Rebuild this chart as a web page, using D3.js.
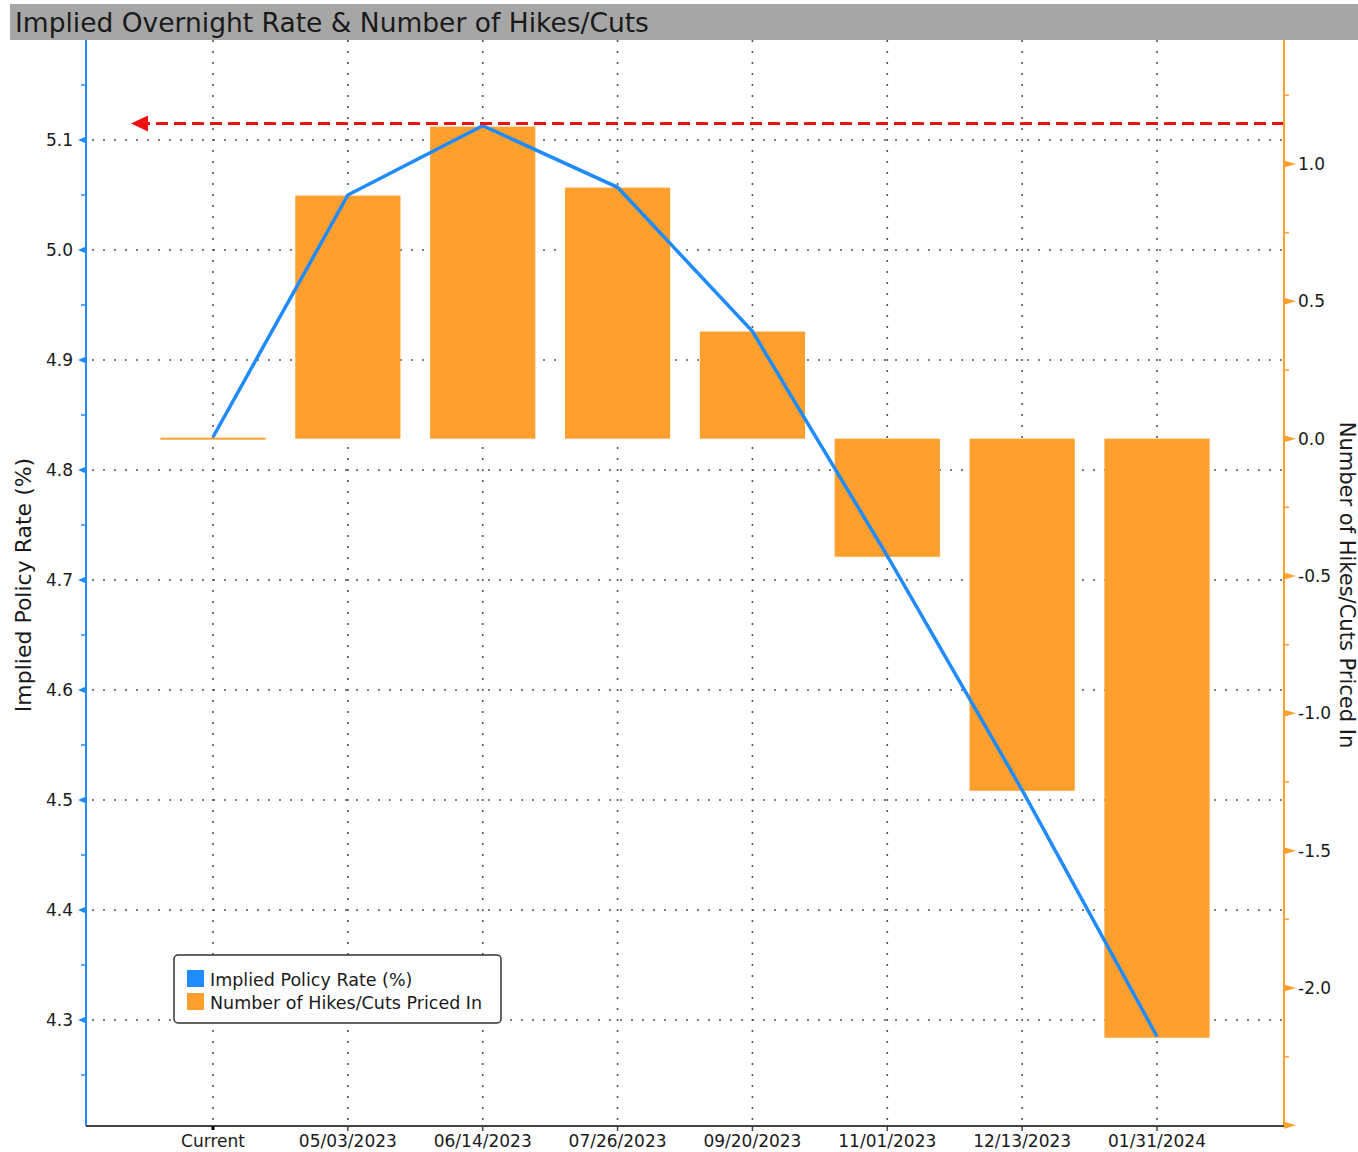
<html><head>
<script src="https://d3js.org/d3.v7.min.js"></script>
<style>
  body { margin: 0; background: #fff; }
  text { font-family: "DejaVu Sans", sans-serif; fill: #1a1a1a; }
</style>
</head>
<body>
<svg id="chart" width="1358" height="1152"></svg>
<script>
// values
const categories = ["Current", "05/03/2023", "06/14/2023", "07/26/2023", "09/20/2023", "11/01/2023", "12/13/2023", "01/31/2024"];
const impliedRate = [4.83, 5.05, 5.113, 5.057, 4.926, 4.722, 4.509, 4.285];   // left axis, %
const hikesCuts = [0, 0.885, 1.136, 0.914, 0.39, -0.43, -1.282, -2.181];      // right axis
const leftTicks = [4.3, 4.4, 4.5, 4.6, 4.7, 4.8, 4.9, 5.0, 5.1];
const leftMinor = [4.25, 4.35, 4.45, 4.55, 4.65, 4.75, 4.85, 4.95, 5.05, 5.15];
const rightTicks = [-2.0, -1.5, -1.0, -0.5, 0.0, 0.5, 1.0];
const rightMinor = [-2.25, -1.75, -1.25, -0.75, -0.25, 0.25, 0.75, 1.25];
const markerLevel = 5.115; // red dashed reference line (peak rate)

const svg = d3.select("#chart");
const pLeft = 86, pRight = 1284, pTop = 40, pBottom = 1126;
const blue = "#1f8bff", orange = "#ff9f2e";

// scales
const x = d3.scalePoint().domain(categories).range([213, 1157]);
const barW = x.step() * 0.78;

const yL = d3.scaleLinear().domain([4.3, 5.1]).range([1020, 140]);
yL.domain([yL.invert(pBottom), yL.invert(pTop)]).range([pBottom, pTop]);
const yR = d3.scaleLinear().domain([-2.0, 1.0]).range([988, 164]);
yR.domain([yR.invert(pBottom), yR.invert(pTop)]).range([pBottom, pTop]);

// title bar
svg.append("rect").attr("x", 10).attr("y", 4).attr("width", 1348).attr("height", 36).attr("fill", "#a6a6a6");
svg.append("text").attr("x", 15).attr("y", 32).attr("font-size", 26.5)
   .text("Implied Overnight Rate & Number of Hikes/Cuts");

// grid
const grid = svg.append("g").attr("stroke", "#555").attr("stroke-width", 1.6).attr("stroke-dasharray", "2,9");
grid.selectAll("line.h").data(leftTicks).join("line")
    .attr("x1", pLeft + 6).attr("x2", pRight).attr("y1", d => yL(d)).attr("y2", d => yL(d));
grid.selectAll("line.v").data(categories).join("line")
    .attr("x1", d => x(d)).attr("x2", d => x(d)).attr("y1", pTop).attr("y2", pBottom);

// bars
svg.append("g").selectAll("rect").data(categories).join("rect")
   .attr("x", d => x(d) - barW / 2)
   .attr("width", barW)
   .attr("y", (d, i) => Math.min(yR(hikesCuts[i]), yR(0)) - (hikesCuts[i] === 0 ? 1 : 0))
   .attr("height", (d, i) => Math.max(2, Math.abs(yR(hikesCuts[i]) - yR(0))))
   .attr("fill", orange);

// line
svg.append("path")
   .datum(categories)
   .attr("fill", "none").attr("stroke", blue).attr("stroke-width", 3.5)
   .attr("d", d3.line().x(d => x(d)).y((d, i) => yL(impliedRate[i])));

// red dashed arrow
const my = yL(markerLevel);
svg.append("line")
   .attr("x1", pRight).attr("x2", 140).attr("y1", my).attr("y2", my)
   .attr("stroke", "#ee1111").attr("stroke-width", 3).attr("stroke-dasharray", "12,6");
svg.append("path")
   .attr("d", `M131,${my} L148,${my - 8} L148,${my + 8} Z`)
   .attr("fill", "#ee1111");

// left axis
const la = svg.append("g");
la.append("line").attr("x1", pLeft).attr("x2", pLeft).attr("y1", pTop).attr("y2", pBottom)
  .attr("stroke", blue).attr("stroke-width", 2);
la.selectAll("path.tk").data(leftTicks).join("path")
  .attr("d", d => `M${pLeft},${yL(d) - 3.5} L${pLeft - 8},${yL(d)} L${pLeft},${yL(d) + 3.5} Z`)
  .attr("fill", blue);
la.selectAll("line.mn").data(leftMinor).join("line")
  .attr("x1", pLeft - 5).attr("x2", pLeft).attr("y1", d => yL(d)).attr("y2", d => yL(d))
  .attr("stroke", blue).attr("stroke-width", 1.5);
la.selectAll("text").data(leftTicks).join("text")
  .attr("x", 73).attr("y", d => yL(d) + 6).attr("text-anchor", "end").attr("font-size", 17)
  .text(d3.format(".1f"));

// right axis
const ra = svg.append("g");
ra.append("line").attr("x1", pRight).attr("x2", pRight).attr("y1", pTop).attr("y2", pBottom)
  .attr("stroke", orange).attr("stroke-width", 2);
ra.selectAll("path.tk").data(rightTicks.concat([-2.5])).join("path")
  .attr("d", d => `M${pRight},${yR(d) - 3.5} L${pRight + 12},${yR(d)} L${pRight},${yR(d) + 3.5} Z`)
  .attr("fill", orange);
ra.selectAll("line.mn").data(rightMinor).join("line")
  .attr("x1", pRight).attr("x2", pRight + 5).attr("y1", d => yR(d)).attr("y2", d => yR(d))
  .attr("stroke", orange).attr("stroke-width", 1.5);
ra.selectAll("text").data(rightTicks).join("text")
  .attr("x", 1298).attr("y", d => yR(d) + 6).attr("font-size", 17)
  .text(d => d3.format(".1f")(d).replace("−", "-"));

// bottom axis
const ba = svg.append("g");
ba.append("line").attr("x1", pLeft).attr("x2", pRight).attr("y1", pBottom).attr("y2", pBottom)
  .attr("stroke", "#444").attr("stroke-width", 2);
ba.selectAll("rect").data(categories).join("rect")
  .attr("x", (d, i) => x(d) - (i === 0 ? 1.5 : 0.75)).attr("y", pBottom)
  .attr("width", (d, i) => i === 0 ? 3 : 1.5).attr("height", (d, i) => i === 0 ? 4 : 5)
  .attr("fill", (d, i) => i === 0 ? "#000" : "#444");
ba.selectAll("text").data(categories).join("text")
  .attr("x", d => x(d)).attr("y", 1147).attr("text-anchor", "middle").attr("font-size", 17)
  .text(d => d);

// axis titles
svg.append("text").attr("transform", "translate(31,585) rotate(-90)")
   .attr("text-anchor", "middle").attr("font-size", 22).text("Implied Policy Rate (%)");
svg.append("text").attr("transform", "translate(1340,585) rotate(90)")
   .attr("text-anchor", "middle").attr("font-size", 21).text("Number of Hikes/Cuts Priced In");

// legend
const lg = svg.append("g");
lg.append("rect").attr("x", 174).attr("y", 955).attr("width", 327).attr("height", 68).attr("rx", 4)
  .attr("fill", "#fff").attr("stroke", "#333").attr("stroke-width", 1.5);
const legendItems = [["Implied Policy Rate (%)", blue], ["Number of Hikes/Cuts Priced In", orange]];
lg.selectAll("rect.sw").data(legendItems).join("rect")
  .attr("x", 187).attr("y", (d, i) => 970 + i * 23).attr("width", 17).attr("height", 17)
  .attr("fill", d => d[1]);
lg.selectAll("text").data(legendItems).join("text")
  .attr("x", 210).attr("y", (d, i) => 986 + i * 23).attr("font-size", 17.5).attr("fill", "#1a1a2e")
  .text(d => d[0]);
</script>
</body>
</html>
